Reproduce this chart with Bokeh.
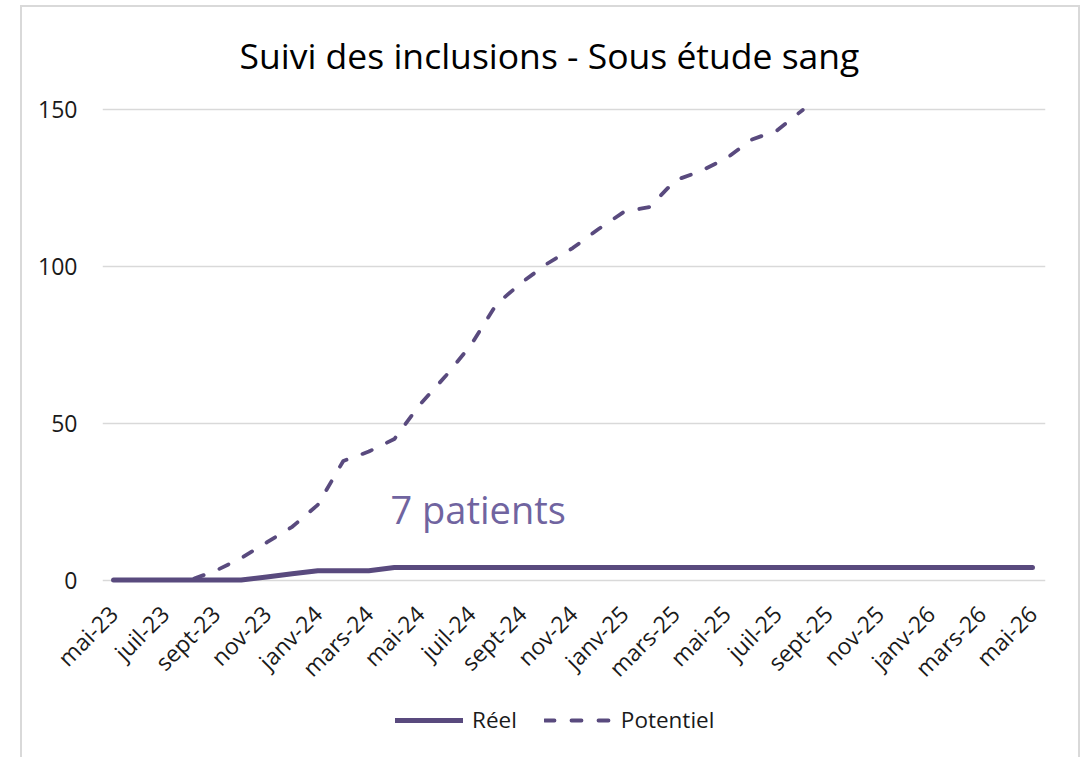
from bokeh.plotting import figure
from bokeh.models import Range1d, Legend, LegendItem, Label, FixedTicker, Spacer
from bokeh.layouts import row, column
from bokeh.embed import file_html
from bokeh.resources import INLINE

months = ["mai-23", "juin-23", "juil-23", "août-23", "sept-23", "oct-23", "nov-23", "déc-23",
          "janv-24", "févr-24", "mars-24", "avr-24", "mai-24", "juin-24", "juil-24", "août-24",
          "sept-24", "oct-24", "nov-24", "déc-24", "janv-25", "févr-25", "mars-25", "avr-25",
          "mai-25", "juin-25", "juil-25", "août-25", "sept-25", "oct-25", "nov-25", "déc-25",
          "janv-26", "févr-26", "mars-26", "avr-26", "mai-26"]

reel = [0, 0, 0, 0, 0, 0, 1, 2, 3, 3, 3, 4, 4, 4, 4, 4, 4, 4, 4, 4, 4, 4, 4, 4, 4,
        4, 4, 4, 4, 4, 4, 4, 4, 4, 4, 4, 4]

potentiel = [0, 0, 0, 0, 3, 7, 12, 17, 24, 38, 41, 45, 56, 65, 75, 88, 95, 101, 106, 112,
             117.5, 119, 127.5, 130.5, 134.5, 140.5, 143.5, 150]

title_text = "Suivi des inclusions - Sous étude sang"
annotation_text = "7 patients"
series_names = ["Réel", "Potentiel"]
y_ticks = [0, 50, 100, 150]

LINE = "#594a7e"
FONT = "Open Sans"
BORDER = "2px solid #d9d9d9"
SOLID = dict(line_color=LINE, line_width=5, line_cap="round", line_join="round")
DASHED = dict(line_color=LINE, line_width=3.8, line_dash="10 17", line_cap="round", line_join="round")

x_idx = list(range(len(months)))

p = figure(width=1060, height=692, output_backend="svg", toolbar_location=None,
           x_range=Range1d(-0.433, 36.51), y_range=Range1d(-3, 153),
           min_border_left=80, min_border_right=37, min_border_top=93, min_border_bottom=110,
           title=title_text)
p.styles = {"border-left": BORDER, "border-top": BORDER, "border-right": BORDER}
p.outline_line_color = None
p.background_fill_color = "white"
p.border_fill_color = "white"

p.title.text_font = FONT
p.title.text_font_size = "35.5px"
p.title.text_font_style = "normal"
p.title.text_color = "#000000"
p.title.align = "left"
p.title.offset = 137
p.title.vertical_align = "middle"
p.title.standoff = 42

p.xgrid.grid_line_color = None
p.ygrid.grid_line_color = "#d9d9d9"
p.ygrid.grid_line_width = 1.5

p.yaxis.ticker = FixedTicker(ticks=y_ticks)
p.xaxis.ticker = FixedTicker(ticks=x_idx[::2])
p.xaxis.major_label_overrides = {i: months[i] for i in x_idx[::2]}
for ax in (p.xaxis[0], p.yaxis[0]):
    ax.axis_line_color = None
    ax.major_tick_line_color = None
    ax.minor_tick_line_color = None
    ax.major_tick_out = 0
    ax.major_tick_in = 0
    ax.major_label_text_font = FONT
    ax.major_label_text_font_size = "23px"
    ax.major_label_text_color = "#1a1a1a"
p.yaxis.major_label_standoff = 25
p.xaxis.major_label_orientation = 0.7854
p.xaxis.major_label_standoff = 20

p.line(x_idx[:len(potentiel)], potentiel, **DASHED)
p.line(x_idx, reel, **SOLID)

lab = Label(x=10.85, y=22.8, text=annotation_text, text_font=FONT, text_font_size="38px",
            text_color="#7064a0", text_baseline="alphabetic", text_align="left")
p.add_layout(lab)

# legend strip (continuation of the chart area); its series lie outside its view
p2 = figure(width=1060, height=60, output_backend="svg", toolbar_location=None,
            x_range=Range1d(-0.433, 36.51), y_range=Range1d(1000, 1001),
            x_axis_type=None, y_axis_type=None,
            min_border_left=80, min_border_right=37, min_border_top=0, min_border_bottom=0)
p2.styles = {"border-left": BORDER, "border-right": BORDER}
p2.outline_line_color = None
p2.grid.grid_line_color = None
p2.background_fill_color = "white"
p2.border_fill_color = "white"
l_reel = p2.line(x_idx, reel, **SOLID)
l_pot = p2.line(x_idx[:len(potentiel)], potentiel, **DASHED)

legend = Legend(items=[LegendItem(label=series_names[0], renderers=[l_reel]),
                       LegendItem(label=series_names[1], renderers=[l_pot])],
                orientation="horizontal", location=(293, 22),
                glyph_width=68, glyph_height=20, label_standoff=9, spacing=27,
                padding=0, margin=0, border_line_color=None, background_fill_alpha=0,
                label_text_font=FONT, label_text_font_size="22.5px", label_text_color="#1a1a1a")
p2.add_layout(legend, "center")

layout = column(Spacer(width=10, height=5),
                row(Spacer(width=20, height=10), column(p, p2)))
open("out.html", "w").write(file_html(layout, INLINE))
